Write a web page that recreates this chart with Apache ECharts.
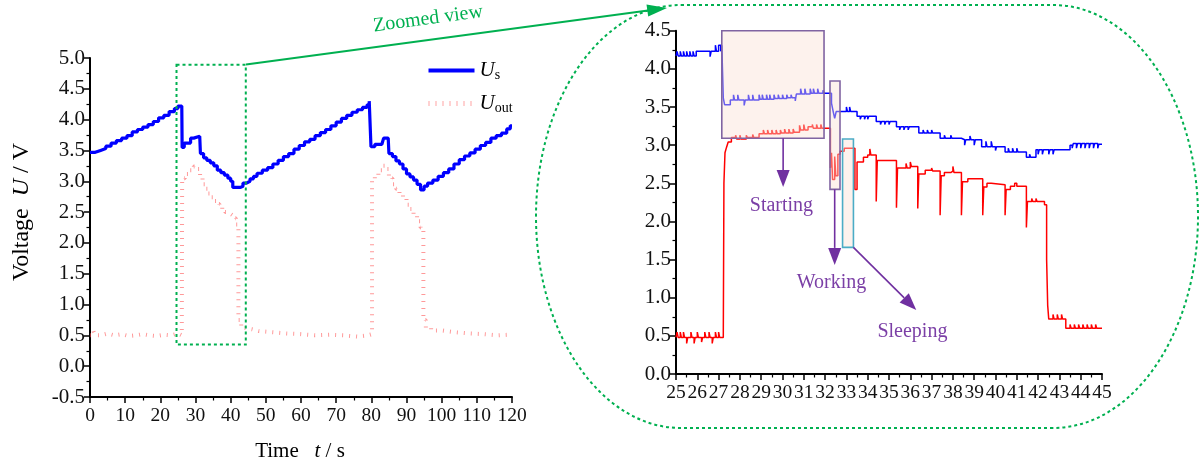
<!DOCTYPE html>
<html><head><meta charset="utf-8">
<script src="https://cdn.jsdelivr.net/npm/echarts@6/dist/echarts.min.js"></script>
<style>html,body{margin:0;padding:0;background:#fff}#c{width:1199px;height:465px}</style>
</head><body><div id="c"></div>
<script>
// ---------- data (time s, voltage V) ----------
const leftUs = [[0,3.47],[1.5,3.5],[3,3.53],[4.5,3.57],[6,3.62],[7.5,3.66],[9,3.7],[10.5,3.74],[12,3.8],[13.5,3.84],[15,3.88],[16.5,3.92],[18,3.97],[19.5,4.03],[21,4.07],[22.5,4.13],[24,4.18],[25,4.22],[26.1,4.22],[26.2,3.55],[26.8,3.62],[28.6,3.7],[29.5,3.73],[31.2,3.72],[31.4,3.45],[32.3,3.38],[33.2,3.34],[34.2,3.3],[35.2,3.25],[36.2,3.18],[37.2,3.14],[38.2,3.1],[39.2,3.05],[40,3.0],[40.6,2.9],[42.8,2.92],[43.5,2.97],[44.5,3.0],[45.5,3.04],[46.5,3.08],[47.5,3.13],[49,3.18],[50.5,3.22],[52,3.28],[53.5,3.34],[55,3.4],[56.5,3.45],[58,3.52],[59.5,3.58],[61,3.64],[62.5,3.68],[64,3.74],[65.5,3.79],[67,3.84],[68.5,3.9],[70,3.96],[71.5,4.02],[73,4.07],[74.5,4.12],[76,4.16],[77.5,4.2],[78.8,4.24],[79.4,4.3],[79.8,4.3],[79.9,3.56],[81,3.6],[83,3.62],[83.5,3.7],[84.8,3.72],[85,3.45],[86,3.4],[87,3.33],[88,3.28],[89,3.2],[90,3.12],[91,3.07],[92,3.02],[93,2.95],[94,2.86],[95,2.92],[96,2.97],[97.5,3.02],[99,3.08],[100.5,3.14],[102,3.2],[103.5,3.28],[105,3.35],[106.5,3.41],[108,3.46],[109.5,3.52],[111,3.58],[112.5,3.63],[114,3.7],[115.5,3.74],[117,3.78],[118.5,3.85],[119.5,3.9],[120,3.9]];
const leftUout = [[0,0.5],[1,0.56],[1.5,0.5],[3,0.53],[5,0.5],[7,0.52],[9,0.49],[11,0.5],[13,0.52],[15,0.5],[17,0.49],[19,0.51],[21,0.5],[23,0.53],[25,0.5],[26.1,0.5],[26.2,3.05],[27,3.12],[28.5,3.18],[29.5,3.24],[30.5,3.2],[31.3,3.05],[32,2.95],[32.8,2.88],[33.6,2.8],[34.4,2.74],[35.2,2.68],[36,2.63],[36.8,2.58],[37.6,2.54],[38.4,2.5],[39.2,2.47],[40,2.44],[40.8,2.4],[41.5,2.3],[42.2,0.75],[43,0.62],[44,0.6],[46,0.57],[48,0.55],[52,0.53],[56,0.52],[60,0.5],[64,0.51],[68,0.5],[72,0.48],[76,0.5],[79,0.52],[80.2,3.0],[81,3.1],[82,3.18],[83,3.25],[84,3.2],[85,3.05],[86,2.95],[87,2.88],[88,2.8],[89,2.72],[90,2.62],[91,2.55],[92,2.45],[93,2.35],[94,2.25],[94.8,0.75],[95.5,0.62],[97,0.58],[100,0.55],[104,0.53],[108,0.52],[112,0.5],[116,0.51],[119,0.5],[120,0.5]];
const rightUs = [[25.0,4.17],[25.05,4.23],[25.1,4.17],[25.2,4.23],[25.25,4.17],[25.35,4.23],[25.4,4.17],[25.5,4.23],[25.55,4.17],[25.65,4.23],[25.7,4.17],[25.8,4.23],[25.85,4.17],[25.95,4.23],[26.6,4.16],[26.65,4.23],[26.85,4.31],[26.9,4.23],[27.0,4.31],[27.1,4.23],[27.15,4.31],[27.22,3.62],[27.28,3.53],[27.55,3.59],[27.7,3.66],[27.75,3.59],[27.9,3.66],[27.95,3.59],[28.2,3.52],[28.25,3.59],[28.4,3.66],[28.45,3.59],[28.6,3.66],[28.65,3.59],[28.9,3.66],[28.95,3.6],[29.05,3.66],[29.1,3.6],[29.25,3.66],[29.3,3.6],[29.4,3.66],[29.45,3.6],[29.6,3.66],[29.65,3.61],[29.8,3.66],[29.85,3.61],[30.0,3.66],[30.05,3.61],[30.2,3.66],[30.25,3.62],[30.4,3.66],[30.45,3.62],[30.6,3.58],[30.65,3.67],[30.85,3.74],[30.9,3.67],[31.05,3.74],[31.1,3.67],[31.3,3.74],[31.35,3.68],[31.45,3.74],[31.5,3.68],[31.65,3.74],[31.7,3.68],[31.9,3.72],[31.95,3.68],[32.3,3.55],[32.38,3.44],[32.45,3.35],[32.52,3.44],[33.0,3.5],[33.05,3.44],[33.15,3.5],[33.2,3.44],[33.5,3.38],[33.65,3.34],[33.7,3.38],[33.85,3.34],[33.9,3.38],[34.0,3.34],[34.05,3.38],[34.4,3.31],[34.6,3.27],[34.65,3.31],[34.8,3.27],[34.85,3.31],[35.0,3.27],[35.05,3.31],[35.35,3.24],[35.5,3.2],[35.55,3.24],[35.7,3.2],[35.75,3.24],[35.9,3.2],[35.95,3.24],[36.4,3.16],[36.6,3.2],[36.65,3.16],[36.8,3.2],[36.85,3.16],[37.0,3.2],[37.05,3.16],[37.4,3.09],[37.6,3.13],[37.65,3.09],[37.9,3.13],[37.95,3.09],[38.4,3.07],[38.55,3.0],[38.6,3.07],[38.8,3.12],[38.85,3.07],[39.0,3.0],[39.05,3.07],[39.35,2.98],[39.55,3.05],[39.6,2.98],[39.8,3.05],[39.85,2.98],[40.0,2.93],[40.05,2.98],[40.45,2.91],[40.6,2.96],[40.65,2.91],[40.8,2.96],[40.85,2.91],[41.0,2.96],[41.05,2.91],[41.45,2.84],[41.6,2.88],[41.65,2.84],[41.9,2.94],[42.0,2.88],[42.05,2.94],[42.2,2.88],[42.25,2.94],[42.5,2.88],[42.55,2.94],[42.7,2.88],[42.75,2.94],[43.5,3.0],[43.6,2.96],[43.65,3.02],[43.8,2.96],[43.85,3.02],[44.0,2.96],[44.05,3.02],[44.2,2.96],[44.25,3.02],[44.4,2.96],[44.45,3.02],[44.6,2.96],[44.65,3.02],[44.8,2.96],[44.85,3.01],[45.0,3.01]];
const rightUout = [[25.0,0.48],[25.05,0.55],[25.1,0.48],[25.2,0.55],[25.25,0.48],[25.35,0.55],[25.4,0.48],[25.5,0.4],[25.55,0.48],[25.7,0.55],[25.75,0.48],[25.85,0.4],[25.9,0.48],[26.0,0.55],[26.05,0.48],[26.2,0.42],[26.25,0.48],[26.35,0.55],[26.4,0.48],[26.55,0.55],[26.6,0.48],[26.7,0.4],[26.75,0.48],[26.85,0.55],[26.9,0.48],[27.0,0.55],[27.05,0.48],[27.22,0.48],[27.25,2.5],[27.3,2.9],[27.37,2.97],[27.45,3.04],[27.6,3.1],[27.8,3.13],[27.85,3.08],[28.0,3.13],[28.05,3.08],[28.3,3.13],[28.35,3.1],[28.6,3.14],[28.65,3.1],[28.9,3.15],[29.1,3.2],[29.15,3.15],[29.3,3.2],[29.35,3.15],[29.5,3.2],[29.55,3.15],[29.7,3.2],[29.75,3.15],[29.9,3.2],[29.95,3.16],[30.1,3.21],[30.15,3.16],[30.3,3.21],[30.35,3.16],[30.5,3.21],[30.55,3.17],[30.8,3.26],[30.85,3.2],[31.0,3.27],[31.05,3.2],[31.2,3.24],[31.4,3.27],[31.45,3.22],[31.6,3.27],[31.65,3.22],[31.8,3.27],[31.85,3.22],[32.0,3.22],[32.25,2.7],[32.3,2.9],[32.35,2.55],[32.45,2.85],[32.5,2.6],[32.6,2.88],[32.7,2.92],[32.9,2.96],[33.3,2.96],[33.4,2.42],[33.5,2.78],[33.8,2.84],[34.0,2.87],[34.1,2.95],[34.15,2.87],[34.4,2.26],[34.45,2.8],[35.35,2.18],[35.4,2.7],[35.8,2.76],[35.85,2.7],[36.0,2.78],[36.05,2.72],[36.35,2.17],[36.4,2.62],[36.7,2.67],[37.0,2.7],[37.05,2.66],[37.4,2.08],[37.45,2.6],[37.6,2.64],[37.9,2.66],[38.0,2.72],[38.05,2.64],[38.4,2.08],[38.45,2.52],[38.7,2.56],[39.4,2.08],[39.45,2.45],[39.6,2.5],[39.8,2.48],[40.45,2.08],[40.5,2.42],[40.7,2.46],[40.9,2.5],[41.0,2.46],[41.45,1.92],[41.5,2.26],[41.7,2.3],[41.75,2.26],[41.9,2.3],[41.95,2.26],[42.3,2.22],[42.4,1.5],[42.45,0.9],[42.5,0.72],[42.7,0.78],[42.75,0.72],[42.9,0.78],[42.95,0.72],[43.1,0.78],[43.15,0.72],[43.3,0.6],[43.5,0.65],[43.55,0.6],[43.7,0.65],[43.75,0.6],[43.9,0.65],[43.95,0.6],[44.1,0.65],[44.15,0.6],[44.3,0.65],[44.35,0.6],[44.5,0.65],[44.55,0.6],[44.7,0.65],[44.75,0.6],[45.0,0.6]];
// annotation regions in data units
const leftZoomBox = [[24.6, 0.35, 44.3, 4.89]];
const rightBoxes = [[27.15, 3.09, 31.95, 4.5], [32.23, 2.42, 32.70, 3.84], [32.82, 1.66, 33.33, 3.08]];
const rightArrows = [[30.03, 3.09, 30.03, 2.45], [32.45, 2.42, 32.45, 1.43], [33.33, 1.66, 36.28, 0.84]];
const rightNotes = [['Starting', 29.95, 2.21], ['Working', 32.3, 1.2], ['Sleeping', 36.1, 0.55]];

// ---------- chart ----------
const F = 'Liberation Serif';
const chart = echarts.init(document.getElementById('c'), null, {renderer: 'canvas'});
function ax(extra) {
  return Object.assign({
    type: 'value',
    axisLine: {show: true, onZero: false, lineStyle: {color: '#000', width: 2}},
    axisTick: {show: true, inside: false, length: 6, lineStyle: {color: '#000', width: 1.5}},
    minorTick: {show: true, splitNumber: 2, length: 3.5, lineStyle: {color: '#000', width: 1.2}},
    splitLine: {show: false}
  }, extra);
}
const fmt1 = v => v.toFixed(1);
const xLab = {color: '#111', fontFamily: F, fontSize: 19.5, margin: 9};
const yLab = {color: '#111', fontFamily: F, fontSize: 21, margin: 5, formatter: fmt1};
const boxColors = ['#8064a2', '#8064a2', '#4bacc6'];
const noteColor = '#7b3fa6';
const arrowColor = '#7030a0';

function arrowShape(p0, p1, len, hw) {
  const dx = p1[0] - p0[0], dy = p1[1] - p0[1];
  const L = Math.sqrt(dx * dx + dy * dy);
  const ux = dx / L, uy = dy / L;
  const bx = p1[0] - ux * len, by = p1[1] - uy * len;
  return {line: [p0[0], p0[1], bx, by], head: [[p1[0], p1[1]], [bx - uy * hw, by + ux * hw], [bx + uy * hw, by - ux * hw]]};
}

// green dashed "zoomed view" outline (stadium with elliptic ends)
const dashStyle = {fill: 'none', stroke: '#00b050', lineWidth: 2, lineDash: [3, 3]};
const K = 0.5523, cxL = 681, cxR = 1053, oCy = 216.5, oRx = 145, oRy = 211.5, oTop = oCy - oRy, oBot = oCy + oRy;
const outline = [
  {type: 'line', shape: {x1: cxL, y1: oTop, x2: cxR, y2: oTop}},
  {type: 'bezierCurve', shape: {x1: cxR, y1: oTop, cpx1: cxR + oRx * K, cpy1: oTop, cpx2: cxR + oRx, cpy2: oCy - oRy * K, x2: cxR + oRx, y2: oCy}},
  {type: 'bezierCurve', shape: {x1: cxR + oRx, y1: oCy, cpx1: cxR + oRx, cpy1: oCy + oRy * K, cpx2: cxR + oRx * K, cpy2: oBot, x2: cxR, y2: oBot}},
  {type: 'line', shape: {x1: cxR, y1: oBot, x2: cxL, y2: oBot}},
  {type: 'bezierCurve', shape: {x1: cxL, y1: oBot, cpx1: cxL - oRx * K, cpy1: oBot, cpx2: cxL - oRx, cpy2: oCy + oRy * K, x2: cxL - oRx, y2: oCy}},
  {type: 'bezierCurve', shape: {x1: cxL - oRx, y1: oCy, cpx1: cxL - oRx, cpy1: oCy - oRy * K, cpx2: cxL - oRx * K, cpy2: oTop, x2: cxL, y2: oTop}}
].map(o => Object.assign(o, {style: dashStyle, z: 10}));

const option = {
  animation: false,
  backgroundColor: '#fff',
  textStyle: {fontFamily: F},
  grid: [
    {left: 90, top: 58, width: 422, height: 339},
    {left: 676, top: 30.7, width: 426, height: 343.3}
  ],
  xAxis: [
    ax({gridIndex: 0, min: 0, max: 120, interval: 10, axisLabel: xLab}),
    ax({gridIndex: 1, min: 25, max: 45, interval: 1, axisLabel: Object.assign({interval: 0}, xLab)})
  ],
  yAxis: [
    ax({gridIndex: 0, min: -0.5, max: 5.0, interval: 0.5, axisLabel: yLab}),
    ax({gridIndex: 1, min: 0, max: 4.5, interval: 0.5, axisLabel: yLab})
  ],
  legend: {
    data: [
      {name: 'Us', lineStyle: {width: 4, color: '#0000ff'}},
      {name: 'Uout', lineStyle: {width: 5, color: 'rgba(255,90,90,0.55)', type: [1, 6]}}
    ],
    orient: 'vertical', left: 421, top: 55,
    itemWidth: 46, itemHeight: 14, itemGap: 11,
    itemStyle: {opacity: 0, borderWidth: 0},
    formatter: n => n === 'Us' ? '{i|U}{s|s}' : '{i|U}{s|out}',
    textStyle: {rich: {
      i: {fontFamily: F, fontStyle: 'italic', fontSize: 21, color: '#000'},
      s: {fontFamily: F, fontSize: 14, color: '#000', padding: [9, 0, 0, 0]}
    }}
  },
  series: [
    {name: 'Uout', type: 'line', xAxisIndex: 0, yAxisIndex: 0, step: 'end', symbol: 'none', showSymbol: false,
     color: 'rgba(255,70,70,0.55)', lineStyle: {color: 'rgba(255,70,70,0.55)', width: 4, type: [1, 6]}, data: leftUout, z: 2},
    {name: 'Us', type: 'line', xAxisIndex: 0, yAxisIndex: 0, step: 'end', symbol: 'none', showSymbol: false,
     color: '#0000ff', lineStyle: {color: '#0000ff', width: 3.2}, data: leftUs, z: 3},
    {name: 'Uout (zoom)', type: 'line', xAxisIndex: 1, yAxisIndex: 1, step: 'end', symbol: 'none', showSymbol: false,
     color: '#ff0000', lineStyle: {color: '#ff0000', width: 1.5}, data: rightUout, z: 2},
    {name: 'Us (zoom)', type: 'line', xAxisIndex: 1, yAxisIndex: 1, step: 'end', symbol: 'none', showSymbol: false,
     color: '#0000ff', lineStyle: {color: '#0000ff', width: 1.5}, data: rightUs, z: 3},
    {type: 'custom', xAxisIndex: 0, yAxisIndex: 0, z: 5, silent: true, data: leftZoomBox,
     renderItem: (params, api) => {
       const a = api.coord([api.value(0), api.value(1)]), b = api.coord([api.value(2), api.value(3)]);
       return {type: 'rect', shape: {x: a[0], y: b[1], width: b[0] - a[0], height: a[1] - b[1]},
               style: {fill: 'none', stroke: '#00b050', lineWidth: 2, lineDash: [3, 3]}};
     }},
    {type: 'custom', xAxisIndex: 1, yAxisIndex: 1, z: 5, silent: true, data: rightBoxes,
     renderItem: (params, api) => {
       const a = api.coord([api.value(0), api.value(1)]), b = api.coord([api.value(2), api.value(3)]);
       return {type: 'rect', shape: {x: a[0], y: b[1], width: b[0] - a[0], height: a[1] - b[1]},
               style: {fill: 'rgba(250,225,212,0.42)', stroke: boxColors[params.dataIndex], lineWidth: 1.6}};
     }},
    {type: 'custom', xAxisIndex: 1, yAxisIndex: 1, z: 6, silent: true, data: rightArrows,
     renderItem: (params, api) => {
       const p0 = api.coord([api.value(0), api.value(1)]), p1 = api.coord([api.value(2), api.value(3)]);
       const s = arrowShape(p0, p1, 17, 6.5);
       return {type: 'group', children: [
         {type: 'line', shape: {x1: s.line[0], y1: s.line[1], x2: s.line[2], y2: s.line[3]}, style: {stroke: arrowColor, lineWidth: 1.6}},
         {type: 'polygon', shape: {points: s.head}, style: {fill: arrowColor}}
       ]};
     }},
    {type: 'custom', xAxisIndex: 1, yAxisIndex: 1, z: 6, silent: true,
     data: rightNotes.map(n => [n[1], n[2]]),
     renderItem: (params, api) => {
       const p = api.coord([api.value(0), api.value(1)]);
       return {type: 'text', x: p[0], y: p[1], style: {text: rightNotes[params.dataIndex][0], fill: noteColor,
               fontFamily: F, fontSize: 20, align: 'center', verticalAlign: 'middle'}};
     }}
  ],
  graphic: [
    {type: 'text', x: 22, y: 212, rotation: Math.PI / 2,
     style: {text: '{n|Voltage  }{i|U}{n| / V}', align: 'center', verticalAlign: 'middle',
             rich: {n: {fontFamily: F, fontSize: 24, fill: '#000'}, i: {fontFamily: F, fontSize: 24, fontStyle: 'italic', fill: '#000'}}}},
    {type: 'text', x: 300, y: 451,
     style: {text: '{n|Time   }{i|t}{n| / s}', align: 'center', verticalAlign: 'middle',
             rich: {n: {fontFamily: F, fontSize: 21, fill: '#000'}, i: {fontFamily: F, fontSize: 21, fontStyle: 'italic', fill: '#000'}}}},
    ...outline,
    {type: 'line', shape: {x1: 246, y1: 64.5, x2: 648, y2: 10.6}, style: {stroke: '#00b050', lineWidth: 2}, z: 10},
    {type: 'polygon', shape: {points: [[667, 8], [648.2, 16.6], [646.5, 4.5]]}, style: {fill: '#00b050'}, z: 10},
    {type: 'text', x: 428, y: 19, rotation: 0.131,
     style: {text: 'Zoomed view', fill: '#00b050', fontFamily: F, fontSize: 20, align: 'center', verticalAlign: 'middle'}, z: 10}
  ]
};
chart.setOption(option);
</script>
</body></html>
